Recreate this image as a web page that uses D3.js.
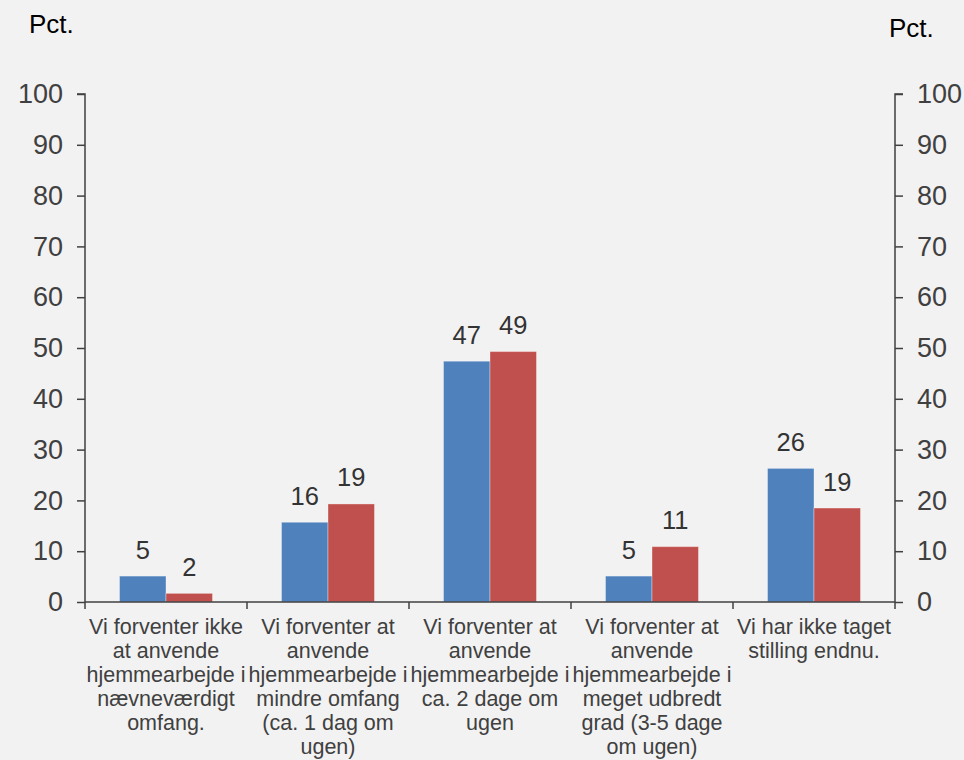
<!DOCTYPE html>
<html><head><meta charset="utf-8">
<script src="https://cdn.jsdelivr.net/npm/d3@7"></script>
<style>
html,body{margin:0;padding:0;background:#f2f2f2;}
svg{display:block;font-family:"Liberation Sans",Arial,sans-serif;}
</style></head><body>
<svg id="chart" width="964" height="760"></svg>
<script>
const categories = [
  ["Vi forventer ikke","at anvende","hjemmearbejde i","nævneværdigt","omfang."],
  ["Vi forventer at","anvende","hjemmearbejde i","mindre omfang","(ca. 1 dag om","ugen)"],
  ["Vi forventer at","anvende","hjemmearbejde i","ca. 2 dage om","ugen"],
  ["Vi forventer at","anvende","hjemmearbejde i","meget udbredt","grad (3-5 dage","om ugen)"],
  ["Vi har ikke taget","stilling endnu."]
];
const seriesBlue = [5.1, 15.7, 47.4, 5.1, 26.3];
const seriesRed  = [1.7, 19.3, 49.3, 10.9, 18.5];
const yTicks = [0,10,20,30,40,50,60,70,80,90,100];
const colors = {blue:"#4f81bd", red:"#c0504d"};

const svg = d3.select("#chart");
const L = 85, R = 895, T = 94, B = 602;
const x = d3.scaleBand().domain(d3.range(categories.length)).range([L, R]).paddingInner(0).paddingOuter(0);
const y = d3.scaleLinear().domain([0,100]).range([B, T]);
const bw = 46.5;
const axisColor = "#404040";
const textColor = "#404040";

// bars
const series = [{vals: seriesBlue, color: colors.blue, off: -bw},{vals: seriesRed, color: colors.red, off: 0}];
series.forEach(s => {
  svg.append("g").selectAll("rect").data(s.vals).enter().append("rect")
    .attr("x", (d,i) => x(i) + x.bandwidth()/2 + s.off)
    .attr("width", bw)
    .attr("y", d => y(d))
    .attr("height", d => B - y(d))
    .attr("fill", s.color)
    .attr("stroke", "rgba(255,255,255,0.35)")
    .attr("stroke-width", 1);
  svg.append("g").selectAll("text").data(s.vals).enter().append("text")
    .attr("x", (d,i) => x(i) + x.bandwidth()/2 + s.off + bw/2)
    .attr("y", d => y(d) - 17.5)
    .attr("text-anchor","middle")
    .attr("font-size", 25.5)
    .attr("fill", "#333")
    .text(d => Math.round(d));
});

// left axis
const gl = svg.append("g").attr("transform",`translate(${L},0)`)
  .call(d3.axisLeft(y).tickValues(yTicks).tickSize(8).tickPadding(14).tickFormat(d3.format("d")));
gl.select(".domain").attr("stroke", axisColor).attr("stroke-width",1.5).attr("d", `M-8,${T}H0V${B}`);
gl.selectAll(".tick line").attr("stroke", axisColor).attr("stroke-width",1.5);
gl.selectAll(".tick text").attr("font-size",27).attr("fill",textColor).attr("font-family","Liberation Sans, Arial, sans-serif");

// right axis
const gr = svg.append("g").attr("transform",`translate(${R},0)`)
  .call(d3.axisRight(y).tickValues(yTicks).tickSize(8).tickPadding(14).tickFormat(d3.format("d")));
gr.select(".domain").attr("stroke", axisColor).attr("stroke-width",1.5).attr("d", `M8,${T}H0V${B}`);
gr.selectAll(".tick line").attr("stroke", axisColor).attr("stroke-width",1.5);
gr.selectAll(".tick text").attr("font-size",27).attr("fill",textColor).attr("font-family","Liberation Sans, Arial, sans-serif");

// x axis
const gx = svg.append("g");
gx.append("line").attr("x1",L).attr("x2",R).attr("y1",B).attr("y2",B).attr("stroke",axisColor).attr("stroke-width",1.5);
const bounds = d3.range(categories.length+1).map(i => i < categories.length ? x(i) : R);
gx.selectAll("line.t").data(bounds).enter().append("line").attr("class","t")
  .attr("x1", d=>d).attr("x2", d=>d).attr("y1", B).attr("y2", B+7)
  .attr("stroke",axisColor).attr("stroke-width",1.5);

// category labels
categories.forEach((lines,i) => {
  const t = svg.append("text").attr("text-anchor","middle").attr("font-size",21.5).attr("fill",textColor);
  lines.forEach((ln,j) => {
    t.append("tspan").attr("x", x(i)+x.bandwidth()/2).attr("y", 634 + j*24).text(ln);
  });
});

// unit labels
svg.append("text").attr("x",29).attr("y",33).attr("font-size",26).attr("fill","#000").text("Pct.");
svg.append("text").attr("x",889).attr("y",37).attr("font-size",26).attr("fill","#000").text("Pct.");
</script>
</body></html>
